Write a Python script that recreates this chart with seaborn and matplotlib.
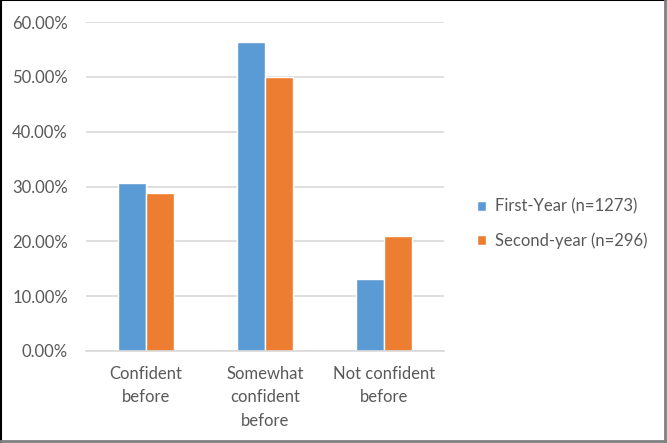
import numpy as np
import pandas as pd
import matplotlib
matplotlib.use("Agg")
import matplotlib.pyplot as plt
from matplotlib.ticker import PercentFormatter
import seaborn as sns

categories = ["Confident\nbefore", "Somewhat\nconfident\nbefore", "Not confident\nbefore"]
groups = ["First-Year (n=1273)", "Second-year (n=296)"]
first_year = [30.6, 56.3, 13.1]
second_year = [28.9, 50.0, 21.0]

df = pd.DataFrame({
    "category": categories * 2,
    "group": [groups[0]] * 3 + [groups[1]] * 3,
    "value": first_year + second_year,
})

sns.set_style("white")
plt.rcParams["font.family"] = ["Lato", "DejaVu Sans"]
TXT = "#595959"

fig = plt.figure(figsize=(6.67, 4.43), dpi=100)
ax = fig.add_axes([0.129, 0.2077, 0.5367, 0.7426])

sns.barplot(data=df, x="category", y="value", hue="group",
            palette=["#5B9BD5", "#ED7D31"], width=0.47, gap=0,
            saturation=1, ax=ax, legend=True)

ax.set_ylim(0, 60)
ax.set_xlim(-0.5, 2.5)
ax.set_yticks(np.arange(0, 61, 10))
ax.yaxis.set_major_formatter(PercentFormatter(decimals=2))
ax.grid(True, axis="y", color="#D9D9D9", lw=1.2)
ax.set_axisbelow(True)
for s in ["top", "right", "left"]:
    ax.spines[s].set_visible(False)
ax.spines["bottom"].set_color("#D9D9D9")
ax.spines["bottom"].set_linewidth(1.2)
ax.tick_params(axis="both", length=0, colors=TXT, labelsize=12)
ax.tick_params(axis="y", pad=13)
ax.tick_params(axis="x", pad=11)
for lbl in ax.get_xticklabels():
    lbl.set_linespacing(1.55)
ax.set_xlabel("")
ax.set_ylabel("")

handles, labels = ax.get_legend_handles_labels()
ax.legend_.remove()
fig.legend(handles, labels, loc="center left", bbox_to_anchor=(0.693, 0.495),
           frameon=False, fontsize=12, labelcolor=TXT,
           handlelength=0.55, handleheight=0.55, handletextpad=0.5,
           labelspacing=1.05)

# outer border like the screenshot
fig.add_artist(plt.Line2D([0.001, 0.001], [0, 1], color="black", lw=1.5, transform=fig.transFigure))
fig.add_artist(plt.Line2D([0, 1], [0.999, 0.999], color="black", lw=1.5, transform=fig.transFigure))
fig.add_artist(plt.Line2D([0.997, 0.997], [0, 1], color="#808080", lw=2, transform=fig.transFigure))
fig.add_artist(plt.Line2D([0, 1], [0.004, 0.004], color="#808080", lw=2, transform=fig.transFigure))

fig.savefig("out.png", dpi=100)
